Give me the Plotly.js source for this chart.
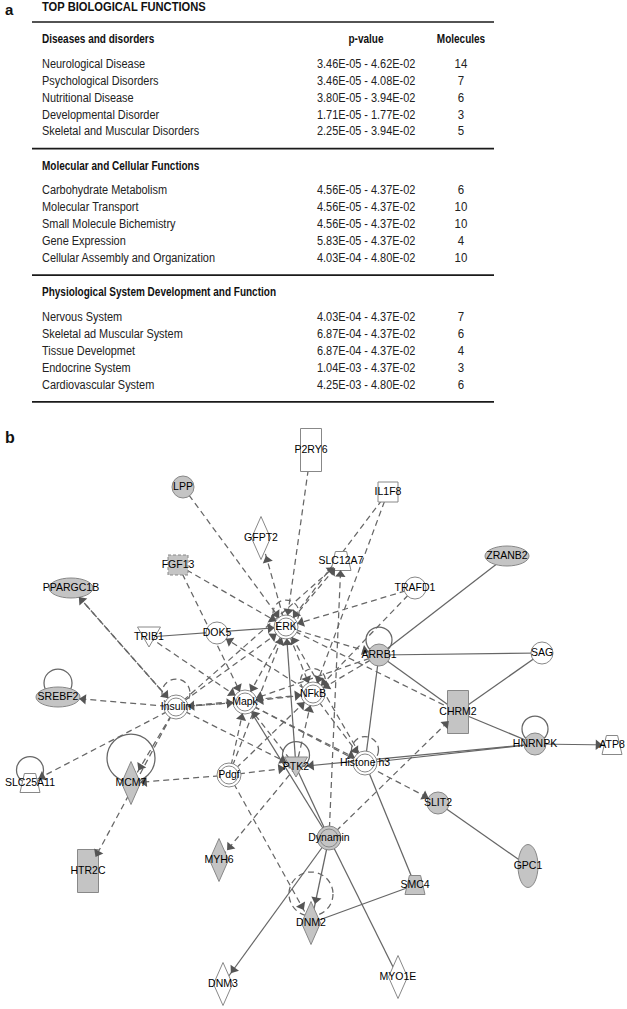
<!DOCTYPE html>
<html><head><meta charset="utf-8">
<script src="https://cdn.plot.ly/plotly-3.0.1.min.js"></script>
<style>html,body{margin:0;padding:0;background:#fff}</style>
</head><body><div id="chart" style="width:627px;height:1009px"></div>
<script>
// ================= TABLE DATA (panel a) =================
const tableTitle = 'TOP BIOLOGICAL FUNCTIONS';
const columnHeaders = ['p-value', 'Molecules'];
const sectionNames = ['Diseases and disorders', 'Molecular and Cellular Functions', 'Physiological System Development and Function'];

const diseaseFunctions = ['Neurological Disease', 'Psychological Disorders', 'Nutritional Disease', 'Developmental Disorder', 'Skeletal and Muscular Disorders'];
const diseasePValues = ['3.46E-05 - 4.62E-02', '3.46E-05 - 4.08E-02', '3.80E-05 - 3.94E-02', '1.71E-05 - 1.77E-02', '2.25E-05 - 3.94E-02'];
const diseaseMolecules = [14, 7, 6, 3, 5];

const cellularFunctions = ['Carbohydrate Metabolism', 'Molecular Transport', 'Small Molecule Bichemistry', 'Gene Expression', 'Cellular Assembly and Organization'];
const cellularPValues = ['4.56E-05 - 4.37E-02', '4.56E-05 - 4.37E-02', '4.56E-05 - 4.37E-02', '5.83E-05 - 4.37E-02', '4.03E-04 - 4.80E-02'];
const cellularMolecules = [6, 10, 10, 4, 10];

const physiologyFunctions = ['Nervous System', 'Skeletal ad Muscular System', 'Tissue Developmet', 'Endocrine System', 'Cardiovascular System'];
const physiologyPValues = ['4.03E-04 - 4.37E-02', '6.87E-04 - 4.37E-02', '6.87E-04 - 4.37E-02', '1.04E-03 - 4.37E-02', '4.25E-03 - 4.80E-02'];
const physiologyMolecules = [7, 6, 4, 3, 6];

// ================= NETWORK DATA (panel b) =================
const nodeNames = ['P2RY6','IL1F8','LPP','GFPT2','SLC12A7','FGF13','ZRANB2','PPARGC1B','TRAFD1','TRIB1',
  'DOK5','ERK','ARRB1','SAG','SREBF2','Insulin','Mapk','NFkB','CHRM2','HNRNPK',
  'ATP8','SLC25A11','MCM7','Pdgf','PTK2','Histone h3','SLIT2','Dynamin','HTR2C','MYH6',
  'SMC4','GPC1','DNM2','DNM3','MYO1E'];
// network layout coordinates
const nodeX = [311,388,183,261,341,178,507,71,415,149,
  217,286,379,542,58,176,245,313,458,535,
  612,30,131,229,296,365,438,329,88,219,
  415,528,311,223,398];
const nodeY = [450,492,487,538,561,565,556,588,588,637,
  633,627,655,653,697,707,702,694,712,744,
  745,783,783,775,767,763,803,838,871,860,
  885,866,923,984,977];
const nodeType = ['rectV','rect','circle','diamond','trap','rect','ellipse','ellipse','circle','triDown',
  'circle','dcircle','circle','circle','ellipse','dcircle','dcircle','dcircle','rectV','circle',
  'trap','trap','diamond','dcircle','triDown','dcircle','circle','dcircle','rectV','diamond',
  'trap','ellipseV','diamond','diamond','diamond'];
// true = molecule from the data set (shaded)
const nodeFocus = [false,false,true,false,false,true,true,true,false,false,
  false,false,true,false,true,false,false,false,true,true,
  false,false,true,false,true,false,true,true,true,true,
  true,true,true,false,false];

// self-regulation loops
const loopNodes  = ['ERK','ARRB1','SREBF2','Insulin','NFkB','HNRNPK','SLC25A11','MCM7','PTK2','Histone h3','DNM2'];
const loopDashed = [true,false,false,true,true,false,false,false,false,true,true];
const loopRadius = [13,13,14,14,12.5,13,13.5,24,13.5,13.5,22];
const loopOffset = [14,15,14,14,13,15,13,25,12,13,29];

// relationships
const edgeFrom = ['P2RY6','IL1F8','IL1F8','LPP','ERK','FGF13','FGF13','ERK','Insulin','Dynamin',
  'TRAFD1','TRAFD1','Insulin','PPARGC1B','TRIB1','NFkB','Insulin','Insulin','Insulin','Mapk',
  'Insulin','Insulin','Insulin','Insulin','Insulin','ERK','ERK','NFkB','Pdgf','Pdgf',
  'PTK2','Mapk','NFkB','Pdgf','Pdgf','PTK2','Histone h3','ERK','ARRB1','ARRB1',
  'Mapk','ERK','Dynamin','Pdgf','Pdgf','Pdgf','PTK2',
  'TRIB1','PTK2','ZRANB2','ARRB1','ARRB1','ARRB1','SAG','CHRM2','HNRNPK','HNRNPK',
  'HNRNPK','SLIT2','Mapk','PTK2','Dynamin','Dynamin','Dynamin','Histone h3','SMC4'];
const edgeTo = ['ERK','ERK','NFkB','ERK','GFPT2','ERK','Mapk','SLC12A7','SLC12A7','SLC12A7',
  'ERK','NFkB','PPARGC1B','Insulin','Mapk','DOK5','ERK','SREBF2','Mapk','Insulin',
  'NFkB','MCM7','SLC25A11','PTK2','HTR2C','Mapk','NFkB','Mapk','Mapk','ERK',
  'Mapk','Histone h3','Histone h3','NFkB','PTK2','NFkB','ERK','ARRB1','NFkB','Mapk',
  'SLIT2','CHRM2','CHRM2','MCM7','DNM2','Pdgf','MYH6',
  'ERK','ERK','ARRB1','SAG','CHRM2','Histone h3','CHRM2','HNRNPK','ATP8','PTK2',
  'Histone h3','GPC1','Dynamin','Dynamin','DNM2','DNM3','MYO1E','SMC4','DNM2'];
const edgeDashed = [true,true,true,true,true,true,true,true,true,true,
  true,true,true,true,true,true,true,true,true,true,
  true,true,true,true,true,true,true,true,true,true,
  true,true,true,true,true,true,true,true,true,true,
  true,true,true,true,true,true,true,
  false,false,false,false,false,false,false,false,false,false,
  false,false,false,false,false,false,false,false,false];
const edgeArrow = [true,true,true,true,true,true,true,true,true,true,
  true,true,true,true,true,true,true,true,true,true,
  true,true,true,true,true,true,true,true,true,true,
  true,true,true,true,true,true,true,true,true,true,
  true,false,true,true,true,false,true,
  true,true,false,false,false,false,false,false,true,true,
  false,false,false,false,true,true,false,false,false];

// ================= STYLE =================
const tableFont = 'Liberation Sans, Arial, sans-serif';
const netFont = 'Liberation Sans, Arial, sans-serif';
const typeSize = {circle:[22,22], dcircle:[24,24], ellipse:[44,20], ellipseV:[20,43], rectV:[21,43],
  rect:[20,20], diamond:[19,43], trap:[20,19], triDown:[23,20]};
const dashedBorderNodes = ['FGF13'];
const edgeColor = '#666666';
const borderColor = '#888888';
const focusFill = '#c4c4c4';
const dashPat = '6px,4px';
// horizontal condensing of the table typeface (title, bold headers, column headers, names, p-values, counts)
const tableCondense = [0.86, 0.77, 0.77, 0.81, 0.81, 0.85];

// ================= BUILD =================
const shapes = [];
const traces = [];
const idx = {}; nodeNames.forEach((n,i)=>idx[n]=i);

// ----- table -----
const tableLeft = 32, tableRight = 494, colName = 42, colP = 317, colMol = 461, colPcenter = 366;
const sections = [
  [diseaseFunctions, diseasePValues, diseaseMolecules],
  [cellularFunctions, cellularPValues, cellularMolecules],
  [physiologyFunctions, physiologyPValues, physiologyMolecules]
];
const ruleY = [22];
const hdrY = [], nameX=[], nameY=[], nameT=[], pX=[], pY=[], pT=[], mX=[], mY=[], mT=[];
let y = 22;
sections.forEach((sec, s) => {
  const hy = y + 18; hdrY.push(hy);
  let ry = hy + 24.5;
  sec[0].forEach((name, i) => {
    nameX.push(colName); nameY.push(ry); nameT.push(name);
    pX.push(colP); pY.push(ry); pT.push(sec[1][i]);
    mX.push(colMol); mY.push(ry); mT.push(String(sec[2][i]));
    if (i < sec[0].length - 1) ry += 16.9;
  });
  y = ry + 16.5; ruleY.push(y);
});
ruleY.forEach((ry, i) => shapes.push({type:'line', xref:'x', yref:'y', x0:tableLeft, x1:tableRight, y0:ry, y1:ry,
  line:{color:'#1a1a1a', width: i===0 ? 1.3 : 1.8}, layer:'below'}));

traces.push({type:'scatter', mode:'text', x:[colName], y:[8], text:['<b>'+tableTitle+'</b>'], textposition:'middle right',
  textfont:{family:tableFont, size:13, color:'#111'}, hoverinfo:'skip', cliponaxis:false});
traces.push({type:'scatter', mode:'text', x:hdrY.map(()=>colName), y:hdrY, text:sectionNames.map(t=>'<b>'+t+'</b>'), textposition:'middle right',
  textfont:{family:tableFont, size:13, color:'#111'}, hoverinfo:'skip', cliponaxis:false});
traces.push({type:'scatter', mode:'text', x:[colPcenter, colMol], y:[hdrY[0], hdrY[0]], text:columnHeaders.map(t=>'<b>'+t+'</b>'), textposition:'middle center',
  textfont:{family:tableFont, size:13, color:'#111'}, hoverinfo:'skip', cliponaxis:false});
traces.push({type:'scatter', mode:'text', x:nameX, y:nameY, text:nameT, textposition:'middle right',
  textfont:{family:tableFont, size:13.5, color:'#222'}, hoverinfo:'skip', cliponaxis:false});
traces.push({type:'scatter', mode:'text', x:pX, y:pY, text:pT, textposition:'middle right',
  textfont:{family:tableFont, size:13.5, color:'#222'}, hoverinfo:'skip', cliponaxis:false});
traces.push({type:'scatter', mode:'text', x:mX, y:mY, text:mT, textposition:'middle center',
  textfont:{family:tableFont, size:13.5, color:'#222'}, hoverinfo:'skip', cliponaxis:false});

// ----- network edges -----
function boundary(i, ux, uy) {
  const [w,h] = typeSize[nodeType[i]];
  const a = w/2, b = h/2;
  return 1/Math.sqrt((ux/a)*(ux/a) + (uy/b)*(uy/b));
}
const arX=[], arY=[], arA=[];
edgeFrom.forEach((f, k) => {
  const i = idx[f], j = idx[edgeTo[k]];
  const x0 = nodeX[i], y0 = nodeY[i], x1 = nodeX[j], y1 = nodeY[j];
  shapes.push({type:'line', xref:'x', yref:'y', x0:x0, y0:y0, x1:x1, y1:y1, layer:'below',
    line:{color:edgeColor, width:1.25, dash: edgeDashed[k] ? dashPat : 'solid'}});
  if (edgeArrow[k]) {
    const dx = x1-x0, dy = y1-y0, L = Math.hypot(dx,dy), ux = dx/L, uy = dy/L;
    const t = boundary(j, ux, uy) + 4;
    arX.push(x1 - ux*t); arY.push(y1 - uy*t);
    arA.push(Math.atan2(dx, -dy) * 180 / Math.PI);
  }
});
// ----- loops -----
loopNodes.forEach((n, k) => {
  const i = idx[n], r = loopRadius[k], cx = nodeX[i], cy = nodeY[i] - loopOffset[k];
  shapes.push({type:'circle', xref:'x', yref:'y', x0:cx-r, x1:cx+r, y0:cy-r, y1:cy+r, layer:'below',
    line:{color:edgeColor, width:1.25, dash: loopDashed[k] ? dashPat : 'solid'}, fillcolor:'rgba(0,0,0,0)'});
});
// ----- nodes -----
nodeNames.forEach((n, i) => {
  const x = nodeX[i], yy = nodeY[i], [w,h] = typeSize[nodeType[i]];
  const fill = nodeFocus[i] ? focusFill : '#ffffff';
  const line = {color:borderColor, width:1, dash: dashedBorderNodes.includes(n) ? '3px,2px' : 'solid'};
  const base = {xref:'x', yref:'y', layer:'below', fillcolor:fill, line:line};
  const t = nodeType[i];
  if (t === 'rect' || t === 'rectV') {
    shapes.push(Object.assign({type:'rect', x0:x-w/2, x1:x+w/2, y0:yy-h/2, y1:yy+h/2}, base));
  } else if (t === 'circle' || t === 'ellipse' || t === 'ellipseV') {
    shapes.push(Object.assign({type:'circle', x0:x-w/2, x1:x+w/2, y0:yy-h/2, y1:yy+h/2}, base));
  } else if (t === 'dcircle') {
    shapes.push(Object.assign({type:'circle', x0:x-w/2, x1:x+w/2, y0:yy-h/2, y1:yy+h/2}, base));
    shapes.push({type:'circle', xref:'x', yref:'y', layer:'below', fillcolor:fill, line:{color:borderColor, width:1},
      x0:x-w/2+3, x1:x+w/2-3, y0:yy-h/2+3, y1:yy+h/2-3});
  } else {
    let p;
    if (t === 'diamond') p = `M ${x},${yy-h/2} L ${x+w/2},${yy} L ${x},${yy+h/2} L ${x-w/2},${yy} Z`;
    else if (t === 'trap') p = `M ${x-w*0.28},${yy-h/2} L ${x+w*0.28},${yy-h/2} L ${x+w/2},${yy+h/2} L ${x-w/2},${yy+h/2} Z`;
    else p = `M ${x-w/2},${yy-h/2} L ${x+w/2},${yy-h/2} L ${x},${yy+h/2} Z`;
    shapes.push(Object.assign({type:'path', path:p}, base));
  }
});
traces.push({type:'scatter', mode:'markers', x:arX, y:arY, hoverinfo:'skip', cliponaxis:false,
  marker:{symbol:'triangle-up', size:9, angle:arA, color:'#555', line:{width:0}}});
traces.push({type:'scatter', mode:'text', x:nodeX, y:nodeY, text:nodeNames, textposition:'middle center',
  textfont:{family:netFont, size:10.5, color:'#000'}, hoverinfo:'skip', cliponaxis:false});

const layout = {
  width:627, height:1009, margin:{l:0,r:0,t:0,b:0}, paper_bgcolor:'#fff', plot_bgcolor:'#fff', showlegend:false,
  xaxis:{range:[0,627], visible:false, fixedrange:true},
  yaxis:{range:[1009,0], visible:false, fixedrange:true},
  shapes:shapes,
  annotations:[
    {x:3, y:9, xref:'x', yref:'y', text:'<b>a</b>', showarrow:false, xanchor:'left', yanchor:'middle', font:{family:'Liberation Sans, Arial', size:15, color:'#111'}},
    {x:3, y:437, xref:'x', yref:'y', text:'<b>b</b>', showarrow:false, xanchor:'left', yanchor:'middle', font:{family:'Liberation Sans, Arial', size:16, color:'#111'}}
  ]
};
Plotly.newPlot('chart', traces, layout, {staticPlot:true, displayModeBar:false}).then(gd => {
  const groups = gd.querySelectorAll('.scatterlayer .trace');
  tableCondense.forEach((s, k) => {
    if (!groups[k]) return;
    groups[k].querySelectorAll('text').forEach(t => {
      const x = parseFloat(t.getAttribute('x'));
      t.setAttribute('transform', `translate(${x},0) scale(${s},1) translate(${-x},0)`);
    });
  });
});
</script></body></html>
